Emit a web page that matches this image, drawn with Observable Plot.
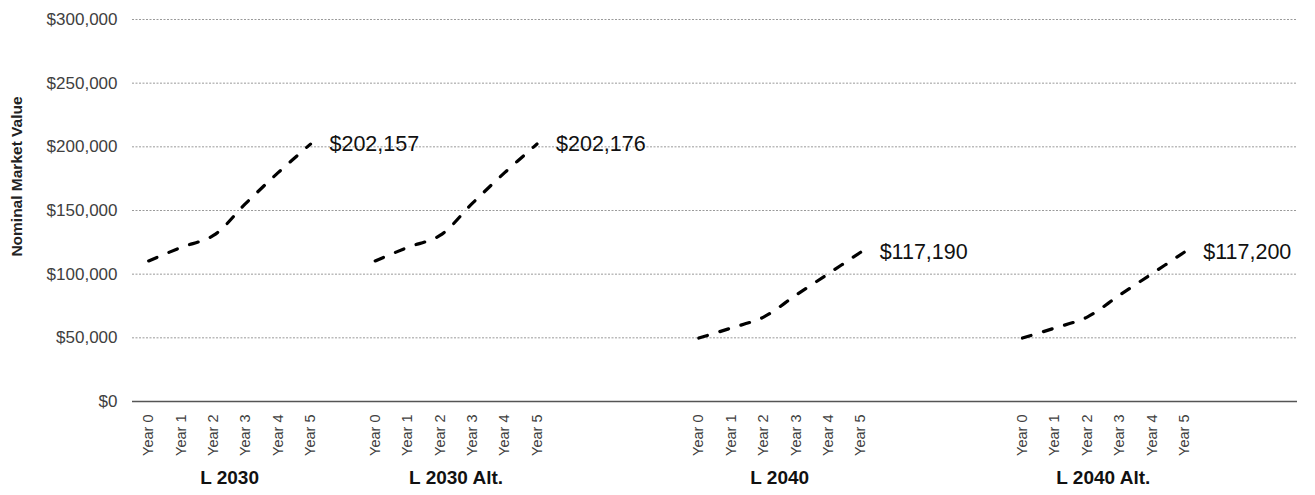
<!DOCTYPE html>
<html>
<head>
<meta charset="utf-8">
<script src="https://cdn.jsdelivr.net/npm/d3@7"></script>
<script src="https://cdn.jsdelivr.net/npm/@observablehq/plot@0.6"></script>
<style>
  html, body { margin: 0; padding: 0; background: #fff; }
</style>
</head>
<body>
<div id="chart"></div>
<script>
// ---- Data ----
const groups = ["L 2030", "L 2030 Alt.", "L 2040", "L 2040 Alt."];
const years = ["Year 0", "Year 1", "Year 2", "Year 3", "Year 4", "Year 5"];
// empty category slots that follow each group on the category axis
const blankSlotsAfter = [1, 4, 4, 3];

const valuesL2030    = [110400, 121000, 130400, 155600, 179700, 202157];
const valuesL2030Alt = [110400, 121000, 130400, 155600, 179700, 202176];
const valuesL2040    = [49800, 57700, 66300, 83500, 100300, 117190];
const valuesL2040Alt = [49800, 57700, 66300, 83500, 100300, 117200];
const seriesValues = [valuesL2030, valuesL2030Alt, valuesL2040, valuesL2040Alt];

const yTicks = [0, 50000, 100000, 150000, 200000, 250000, 300000];
const yTitle = "Nominal Market Value";

// ---- Build tables ----
const keyOf = (g, y) => `${g}|${y}`;
const domain = [];
groups.forEach((g, gi) => {
  years.forEach(y => domain.push(keyOf(g, y)));
  for (let j = 0; j < blankSlotsAfter[gi]; j++) domain.push(`blank-${gi}-${j}`);
});
const realKeys = domain.filter(k => !k.startsWith("blank"));

const rows = [];
groups.forEach((g, gi) => {
  years.forEach((y, yi) => rows.push({group: g, year: y, key: keyOf(g, y), value: seriesValues[gi][yi]}));
});
const lastRows = groups.map((g, gi) => ({group: g, key: keyOf(g, years[years.length - 1]), value: seriesValues[gi][years.length - 1]}));
const groupLabels = groups.map(g => ({group: g, key: keyOf(g, years[2])}));

// ---- Layout ----
const W = 1315, H = 495;
const mL = 132, mR = 18, mT = 19, mB = 94;
const band = (W - mL - mR) / domain.length;
const FONT = "'Liberation Sans', Arial, Helvetica, sans-serif";
const fmt = d3.format("$,.0f");

const chart = Plot.plot({
  width: W,
  height: H,
  marginLeft: mL,
  marginRight: mR,
  marginTop: mT,
  marginBottom: mB,
  style: {fontFamily: FONT, background: "#fff", overflow: "visible"},
  x: {type: "band", domain, padding: 0, round: false},
  y: {domain: [0, 300000]},
  marks: [
    Plot.gridY(yTicks.filter(d => d > 0), {stroke: "#9a9a9a", strokeOpacity: 1, strokeDasharray: "2,1.5", strokeWidth: 1}),
    Plot.ruleY([0], {stroke: "#555", strokeWidth: 1.5}),
    Plot.axisY({
      ticks: yTicks, tickFormat: fmt, tickSize: 0, tickPadding: 15,
      fontSize: 17, fill: "#404040", label: null
    }),
    Plot.axisX({
      ticks: realKeys, tickFormat: k => k.split("|")[1], tickRotate: -90,
      tickSize: 0, tickPadding: 13, fontSize: 14.5, fill: "#404040", label: null
    }),
    Plot.line(rows, {
      x: "key", y: "value", z: "group", curve: "catmull-rom",
      stroke: "#000", strokeWidth: 3.2, strokeDasharray: "9,13", strokeLinecap: "round"
    }),
    Plot.text(lastRows, {
      x: "key", y: "value", text: d => fmt(d.value), textAnchor: "start",
      dx: 19, fontSize: 21.5, fill: "#111"
    }),
    Plot.text(groupLabels, {
      x: "key", text: "group", frameAnchor: "bottom", dx: band / 2, dy: 82,
      fontSize: 19, fontWeight: "bold", fill: "#111"
    }),
    Plot.text([yTitle], {
      text: d => d, frameAnchor: "left", textAnchor: "middle", rotate: -90,
      dx: -115, dy: -34, fontSize: 15.5, fontWeight: "bold", fill: "#222"
    })
  ]
});
document.getElementById("chart").appendChild(chart);
</script>
</body>
</html>
